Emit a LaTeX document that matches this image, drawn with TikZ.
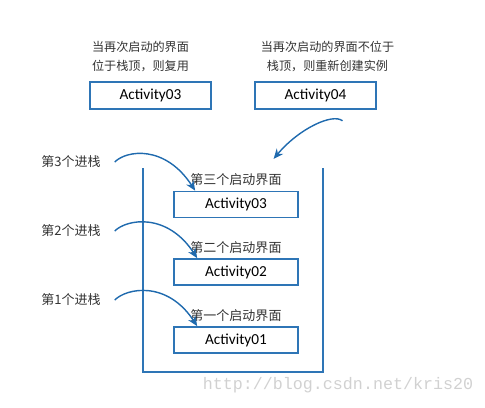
\documentclass[tikz,border=0pt]{standalone}
\usepackage{fontspec}
\setmainfont{Carlito}
\newfontfamily\cjk{Noto Sans CJK SC}
\newfontfamily\wmfont{Liberation Mono}
\usetikzlibrary{arrows.meta,positioning}
\definecolor{stackblue}{HTML}{2E75B6}
\definecolor{arrowblue}{HTML}{1F6AAE}
\definecolor{ink}{HTML}{333333}

\begin{document}
\begin{tikzpicture}[x=0.02cm, y=-0.02cm,
  act/.style={draw=stackblue, line width=0.9pt, minimum width=2.42cm,
              minimum height=0.54cm, inner sep=0pt, text=black,
              font=\fontsize{8.7}{10}\selectfont},
  note/.style={font=\cjk\fontsize{6.9}{10.8}\selectfont, text=ink,
               align=center, inner sep=1pt},
  tag/.style={font=\cjk\fontsize{7.4}{9}\selectfont, text=ink, inner sep=1pt},
  arr/.style={-{Stealth[length=2mm,width=1.7mm]}, arrowblue, line width=0.8pt}]
  \useasboundingbox (0,0) rectangle (485,407);
  % top: reuse vs. new instance
  \node[act] (a3) at (150.5,95.5) {Activity03};
  \node[act] (a4) at (315.5,95.5) {Activity04};
  \node[note, above=1.5mm of a3, xshift=-0.2cm] (n3) {当再次启动的界面\\位于栈顶，则复用};
  \node[note, above=1.5mm of a4, xshift=0.24cm] (n4) {当再次启动的界面不位于\\栈顶，则重新创建实例};
  % the stack
  \draw[stackblue, line width=0.85pt] (143,168) |- (323,372) -- (323,168);
  \node[act, minimum width=2.48cm, minimum height=0.52cm] (s3) at (236,204.5) {Activity03};
  \node[act, minimum width=2.48cm, minimum height=0.52cm] (s2) at (236,272) {Activity02};
  \node[act, minimum width=2.48cm, minimum height=0.52cm] (s1) at (236,340) {Activity01};
  \node[tag, above=0.5mm of s3] (t3) {第三个启动界面};
  \node[tag, above=0.5mm of s2] (t2) {第二个启动界面};
  \node[tag, above=0.5mm of s1] (t1) {第一个启动界面};
  % pushes
  \node[tag] (k3) at (71,162) {第3个进栈};
  \node[tag] (k2) at (71,231) {第2个进栈};
  \node[tag] (k1) at (71,300) {第1个进栈};
  \draw[arr] ([xshift=0.24cm]k3.east) .. controls +(12,-12) and +(-30,-46) .. ([xshift=0.44cm]s3.north west);
  \draw[arr] ([xshift=0.24cm]k2.east) .. controls +(12,-12) and +(-30,-46) .. ([xshift=0.48cm]s2.north west);
  \draw[arr] ([xshift=0.24cm]k1.east) .. controls +(12,-12) and +(-30,-46) .. ([xshift=0.48cm]s1.north west);
  \draw[arr] ([xshift=0.54cm,yshift=-0.22cm]a4.south) .. controls +(-10,-8) and +(25,-30) .. ([xshift=-0.2cm,yshift=0.26cm]t3.north east);
  \node[font=\wmfont\fontsize{9.5}{10}\selectfont, text=black!18] (wm) at (338,385) {http://blog.csdn.net/kris20};
\end{tikzpicture}
\end{document}
